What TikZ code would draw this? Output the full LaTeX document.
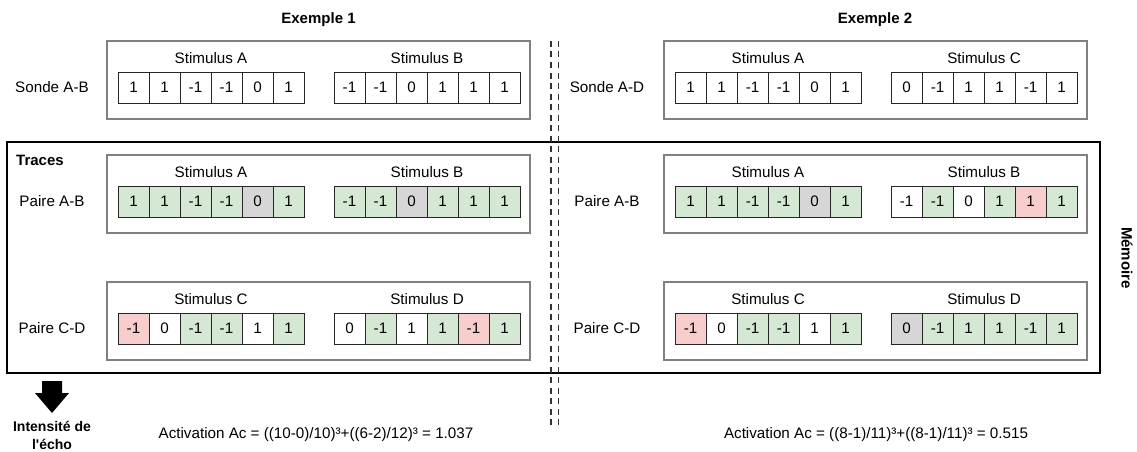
\documentclass[tikz,border=0pt]{standalone}
\usepackage{fontspec}
\setmainfont{Liberation Sans}
\definecolor{cg}{HTML}{D5E8D4}
\definecolor{cr}{HTML}{F8CECC}
\definecolor{cy}{HTML}{D6D6D6}
\definecolor{cw}{HTML}{FFFFFF}
\definecolor{pgray}{HTML}{808080}
\definecolor{dgray}{HTML}{333333}
\newcommand\cellrow[4]{%
  \foreach \vv/\ff [count=\ii] in {#4} {
    \node[cellbox, fill=\ff] (#1-\ii) at ({#2+\ii*31-15.5},{#3}) {\vv};
  }}
\newcommand\mkpanel[9]{%
  \node[panelbox] (#1) at ({#2+211.5},{#3+39}) {};
  \node[lbl] (#1-lab) at (#5,{#3+46.5}) {#4};
  \node[lbl] (#1-s1) at ({#2+104},{#3+17}) {#6};
  \node[lbl] (#1-s2) at ({#2+320},{#3+17}) {#7};
  \cellrow{#1-a}{#2+11}{#3+46.5}{#8}
  \cellrow{#1-b}{#2+227}{#3+46.5}{#9}
}
\begin{document}
\begin{tikzpicture}[x=1pt,y=-1pt,
  lbl/.style={inner sep=0pt, font=\fontsize{15.2}{18}\selectfont},
  title/.style={inner sep=0pt, font=\fontsize{15}{18}\selectfont\bfseries},
  cellbox/.style={draw=black!85, line width=0.8pt, minimum width=31pt, minimum height=31pt, inner sep=0pt, font=\fontsize{15.2}{18}\selectfont},
  panelbox/.style={draw=pgray, line width=1.3pt, minimum width=423pt, minimum height=78pt, inner sep=0pt},
  sepline/.style={draw=dgray, line width=1.6pt, dash pattern=on 6pt off 4.5pt}]
\fill[white] (0,0) rectangle (1137,452);
\useasboundingbox (0,0) rectangle (1137,452);

% titles
\node[title] (ex1) at (318.5,20) {Exemple 1};
\node[title] (ex2) at (875,20) {Exemple 2};

% memory box
\node[draw, line width=2.2pt, minimum width=1093pt, minimum height=231pt, inner sep=0pt] (mem) at (553.5,257.5) {};
\node[title, anchor=west] (traces) at (16,160) {Traces};
\node[title, rotate=-90] (memoire) at (1127,258) {Mémoire};

% example 1
\mkpanel{s1}{107}{41}{Sonde A-B}{52}{Stimulus A}{Stimulus B}%
  {1/cw,1/cw,-1/cw,-1/cw,0/cw,1/cw}{-1/cw,-1/cw,0/cw,1/cw,1/cw,1/cw}
\mkpanel{p1}{107}{155}{Paire A-B}{52}{Stimulus A}{Stimulus B}%
  {1/cg,1/cg,-1/cg,-1/cg,0/cy,1/cg}{-1/cg,-1/cg,0/cy,1/cg,1/cg,1/cg}
\mkpanel{q1}{107}{282}{Paire C-D}{52}{Stimulus C}{Stimulus D}%
  {-1/cr,0/cw,-1/cg,-1/cg,1/cw,1/cg}{0/cw,-1/cg,1/cw,1/cg,-1/cr,1/cg}

% example 2
\mkpanel{s2}{664}{41}{Sonde A-D}{607}{Stimulus A}{Stimulus C}%
  {1/cw,1/cw,-1/cw,-1/cw,0/cw,1/cw}{0/cw,-1/cw,1/cw,1/cw,-1/cw,1/cw}
\mkpanel{p2}{664}{155}{Paire A-B}{607}{Stimulus A}{Stimulus B}%
  {1/cg,1/cg,-1/cg,-1/cg,0/cy,1/cg}{-1/cw,-1/cg,0/cw,1/cg,1/cr,1/cg}
\mkpanel{q2}{664}{282}{Paire C-D}{607}{Stimulus C}{Stimulus D}%
  {-1/cr,0/cw,-1/cg,-1/cg,1/cw,1/cg}{0/cy,-1/cg,1/cg,1/cg,-1/cg,1/cg}

% separator
\coordinate (d1t) at (551,41);
\coordinate (d1b) at (551,429);
\coordinate (d2t) at (558.5,41);
\coordinate (d2b) at (558.5,429);
\draw[sepline] (d1t) -- (d1b);
\draw[sepline] (d2t) -- (d2b);

% arrow
\fill[black] (42,381) -- (62,381) -- (62,393) -- (69,393) -- (52,413) -- (35,393) -- (42,393) -- cycle;
\node[title, align=center, font=\fontsize{14}{18}\selectfont\bfseries] (echo) at (52,435) {Intensité de\\l\textquotesingle écho};

% activations
\node[lbl] (act1) at (316,435) {Activation Ac = ((10-0)/10)³+((6-2)/12)³ = 1.037};
\node[lbl] (act2) at (876,435) {Activation Ac = ((8-1)/11)³+((8-1)/11)³ = 0.515};
\end{tikzpicture}
\end{document}
